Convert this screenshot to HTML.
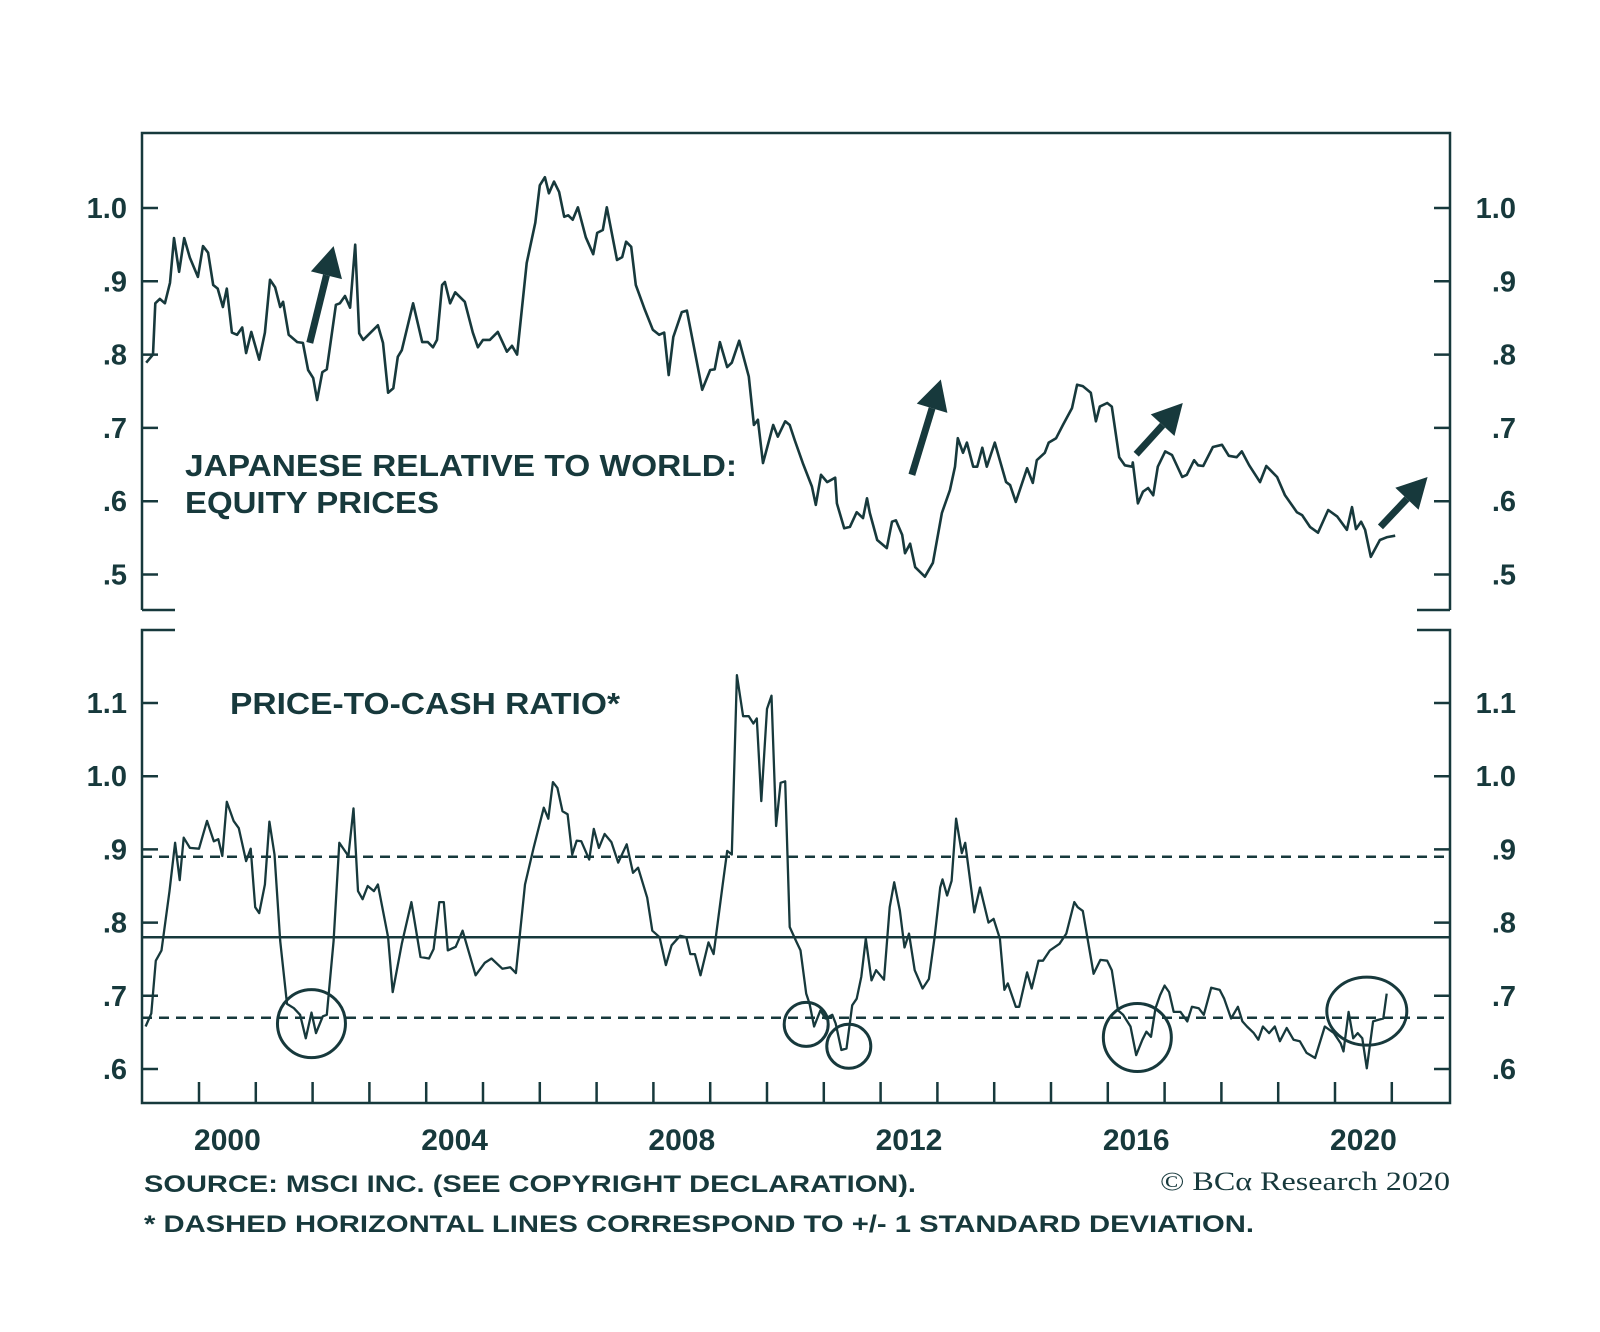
<!DOCTYPE html>
<html><head><meta charset="utf-8"><style>
html,body{margin:0;padding:0;background:#fff;}
svg{display:block;}
text{font-family:"Liberation Sans",Arial,sans-serif;fill:#17393c;font-weight:bold;}
</style></head><body>
<svg id="chart" width="1600" height="1332" viewBox="0 0 1600 1332" xmlns="http://www.w3.org/2000/svg">
<g id="frame"></g>
<g id="ticks"></g>
<g id="series"></g>
<text x="185" y="476" font-size="31" textLength="552" lengthAdjust="spacingAndGlyphs">JAPANESE RELATIVE TO WORLD:</text>
<text x="185" y="513" font-size="31" textLength="254" lengthAdjust="spacingAndGlyphs">EQUITY PRICES</text>
<text x="230" y="714" font-size="31" textLength="390" lengthAdjust="spacingAndGlyphs">PRICE-TO-CASH RATIO*</text>
<text x="144" y="1192" font-size="24" textLength="772" lengthAdjust="spacingAndGlyphs">SOURCE: MSCI INC. (SEE COPYRIGHT DECLARATION).</text>
<text x="144" y="1232" font-size="24" textLength="1110" lengthAdjust="spacingAndGlyphs">* DASHED HORIZONTAL LINES CORRESPOND TO +/- 1 STANDARD DEVIATION.</text>
<text x="1160" y="1190" font-size="26" style="font-family:'Liberation Serif',serif;font-weight:normal" textLength="290" lengthAdjust="spacingAndGlyphs">© BCα Research 2020</text>
</svg>
<script>
const topYears=[1999.07,1999.19,1999.23,1999.31,1999.40,1999.49,1999.56,1999.65,1999.74,1999.84,1999.98,2000.07,2000.16,2000.25,2000.33,2000.42,2000.49,2000.58,2000.67,2000.76,2000.83,2000.92,2001.06,2001.16,2001.25,2001.34,2001.43,2001.48,2001.58,2001.73,2001.83,2001.92,2002.01,2002.08,2002.17,2002.25,2002.41,2002.48,2002.57,2002.66,2002.75,2002.82,2002.89,2003.15,2003.24,2003.33,2003.42,2003.50,2003.57,2003.77,2003.93,2004.03,2004.12,2004.19,2004.28,2004.33,2004.42,2004.51,2004.68,2004.82,2004.91,2005.00,2005.12,2005.26,2005.35,2005.42,2005.51,2005.60,2005.77,2005.92,2006.00,2006.09,2006.16,2006.25,2006.34,2006.43,2006.50,2006.58,2006.67,2006.81,2006.94,2007.01,2007.11,2007.18,2007.36,2007.45,2007.52,2007.61,2007.69,2007.85,2007.99,2008.10,2008.19,2008.27,2008.35,2008.50,2008.59,2008.86,2009.00,2009.08,2009.17,2009.30,2009.38,2009.51,2009.68,2009.77,2009.84,2009.93,2010.11,2010.19,2010.32,2010.40,2010.49,2010.63,2010.79,2010.86,2010.95,2011.06,2011.20,2011.23,2011.36,2011.46,2011.58,2011.69,2011.76,2011.81,2011.94,2012.11,2012.20,2012.27,2012.38,2012.43,2012.52,2012.61,2012.78,2012.92,2013.08,2013.22,2013.31,2013.36,2013.45,2013.52,2013.63,2013.70,2013.79,2013.87,2014.01,2014.21,2014.28,2014.38,2014.58,2014.68,2014.75,2014.89,2014.96,2015.09,2015.21,2015.37,2015.46,2015.56,2015.70,2015.79,2015.86,2015.99,2016.07,2016.20,2016.30,2016.43,2016.44,2016.53,2016.62,2016.71,2016.80,2016.88,2017.01,2017.13,2017.31,2017.39,2017.52,2017.59,2017.68,2017.85,2018.01,2018.13,2018.27,2018.36,2018.49,2018.68,2018.79,2018.98,2019.12,2019.33,2019.42,2019.56,2019.70,2019.88,2020.04,2020.21,2020.30,2020.37,2020.46,2020.53,2020.63,2020.79,2020.92,2021.06];
const topValues=[.789,.80,.87,.876,.87,.898,.959,.913,.959,.932,.906,.948,.939,.895,.89,.865,.89,.83,.827,.837,.802,.831,.793,.83,.902,.892,.865,.872,.827,.817,.816,.779,.768,.738,.776,.78,.868,.87,.88,.864,.95,.829,.82,.84,.816,.748,.754,.797,.806,.87,.817,.817,.81,.82,.895,.899,.87,.885,.872,.83,.81,.82,.82,.831,.816,.804,.812,.80,.925,.98,1.031,1.042,1.02,1.036,1.022,.988,.99,.984,1.001,.96,.937,.966,.97,1.001,.929,.933,.954,.947,.895,.861,.834,.827,.83,.772,.824,.858,.86,.752,.779,.78,.817,.783,.789,.819,.77,.704,.711,.652,.704,.688,.709,.704,.683,.652,.62,.595,.636,.626,.632,.597,.563,.565,.585,.577,.604,.584,.547,.536,.572,.574,.554,.529,.542,.51,.497,.516,.584,.615,.647,.686,.666,.68,.647,.647,.673,.647,.68,.626,.622,.599,.645,.625,.656,.666,.68,.686,.704,.727,.759,.757,.748,.709,.729,.734,.729,.66,.649,.647,.653,.597,.613,.618,.608,.647,.668,.663,.633,.636,.656,.649,.648,.674,.677,.662,.66,.668,.649,.626,.648,.633,.608,.585,.581,.565,.557,.588,.579,.561,.592,.562,.572,.561,.524,.547,.551,.553];
const pcYears=[1999.06,1999.16,1999.24,1999.34,1999.48,1999.58,1999.66,1999.73,1999.84,2000.00,2000.14,2000.26,2000.34,2000.41,2000.49,2000.61,2000.70,2000.83,2000.91,2000.99,2001.06,2001.16,2001.24,2001.33,2001.43,2001.55,2001.67,2001.78,2001.88,2001.98,2002.06,2002.18,2002.25,2002.37,2002.47,2002.63,2002.72,2002.80,2002.88,2002.97,2003.08,2003.15,2003.33,2003.41,2003.57,2003.74,2003.90,2004.05,2004.13,2004.23,2004.31,2004.38,2004.52,2004.64,2004.87,2005.03,2005.15,2005.34,2005.48,2005.58,2005.74,2005.89,2006.07,2006.15,2006.23,2006.31,2006.40,2006.49,2006.57,2006.65,2006.73,2006.87,2006.95,2007.04,2007.14,2007.26,2007.38,2007.53,2007.64,2007.73,2007.89,2007.98,2008.11,2008.22,2008.32,2008.47,2008.58,2008.65,2008.73,2008.83,2008.97,2009.06,2009.22,2009.30,2009.38,2009.47,2009.58,2009.68,2009.76,2009.82,2009.90,2010.00,2010.08,2010.16,2010.24,2010.32,2010.40,2010.51,2010.59,2010.69,2010.75,2010.83,2010.94,2011.03,2011.15,2011.21,2011.31,2011.40,2011.50,2011.58,2011.66,2011.74,2011.84,2011.92,2012.06,2012.16,2012.24,2012.34,2012.42,2012.50,2012.60,2012.74,2012.85,2012.95,2013.05,2013.09,2013.17,2013.25,2013.33,2013.43,2013.49,2013.65,2013.75,2013.90,2013.99,2014.10,2014.18,2014.24,2014.38,2014.44,2014.58,2014.66,2014.78,2014.86,2014.98,2015.15,2015.27,2015.41,2015.47,2015.56,2015.75,2015.87,2015.99,2016.07,2016.18,2016.27,2016.40,2016.50,2016.61,2016.68,2016.76,2016.84,2016.92,2017.00,2017.08,2017.16,2017.28,2017.40,2017.48,2017.60,2017.69,2017.82,2017.97,2018.05,2018.17,2018.29,2018.37,2018.45,2018.57,2018.65,2018.73,2018.84,2018.94,2019.03,2019.15,2019.27,2019.38,2019.50,2019.65,2019.82,2019.98,2020.10,2020.15,2020.24,2020.32,2020.40,2020.48,2020.56,2020.67,2020.75,2020.85,2020.91];
const pcValues=[.658,.676,.748,.762,.843,.909,.858,.916,.902,.901,.939,.911,.914,.891,.965,.939,.929,.884,.901,.821,.813,.852,.938,.893,.775,.689,.683,.674,.642,.677,.649,.672,.674,.775,.909,.891,.956,.843,.832,.85,.843,.852,.78,.705,.771,.828,.753,.751,.764,.828,.828,.762,.767,.789,.728,.745,.751,.737,.739,.731,.852,.902,.957,.942,.992,.984,.952,.948,.893,.912,.911,.886,.928,.902,.921,.91,.882,.907,.868,.875,.834,.789,.78,.742,.769,.782,.78,.757,.757,.728,.773,.757,.852,.898,.893,1.138,1.082,1.082,1.072,1.079,.966,1.092,1.11,.932,.991,.993,.794,.775,.762,.703,.689,.658,.68,.669,.674,.662,.626,.628,.687,.696,.726,.778,.721,.735,.722,.821,.855,.816,.766,.785,.735,.71,.723,.78,.848,.859,.837,.857,.942,.895,.909,.814,.848,.80,.805,.778,.708,.717,.685,.685,.732,.71,.748,.748,.762,.771,.785,.828,.821,.816,.73,.749,.748,.735,.68,.674,.658,.619,.64,.651,.644,.683,.701,.714,.705,.678,.678,.665,.685,.683,.674,.711,.708,.696,.669,.685,.665,.658,.649,.64,.658,.649,.658,.638,.656,.64,.638,.622,.615,.658,.649,.635,.624,.678,.642,.649,.642,.601,.665,.667,.669,.703];
const refLevels=[.89,.78,.67];
const refStyles=["dashed","solid","dashed"];
const circleYears=[2001.98,2010.69,2011.44,2016.52,2020.56];
const circleValues=[.662,.661,.631,.643,.679];
const circleRadii=[34,22,22,34,40];
const topTicks=[.5,.6,.7,.8,.9,1.0];
const topTickLabels=[".5",".6",".7",".8",".9","1.0"];
const pcTicks=[.6,.7,.8,.9,1.0,1.1];
const pcTickLabels=[".6",".7",".8",".9","1.0","1.1"];
const yearTicks=[2000,2001,2002,2003,2004,2005,2006,2007,2008,2009,2010,2011,2012,2013,2014,2015,2016,2017,2018,2019,2020,2021];
const yearLabels=[2000,2004,2008,2012,2016,2020];
const arrowFromYears=[2001.95,2012.55,2016.5,2020.8];
const arrowFromValues=[.816,.636,.664,.565];
const arrowToYears=[2002.37,2013.06,2017.32,2021.63];
const arrowToValues=[.948,.766,.734,.633];

const C="#17393c";
const L=142,R=1450;
const xS=y=>199+(y-2000)*56.8;
const yTop=v=>208+(1-v)*733;
const yPc=v=>1069-(v-0.6)*732;
const NS="http://www.w3.org/2000/svg";
function mk(tag,parent,attrs){const e=document.createElementNS(NS,tag);for(const k in attrs)e.setAttribute(k,attrs[k]);parent.appendChild(e);return e;}
const frame=document.getElementById('frame'),ticks=document.getElementById('ticks'),series=document.getElementById('series');
const fp=mk('path',frame,{d:`M${L},610 V133 H${R} V610 M${L},610 H175 M${R},610 H1417 M175,630 H${L} V1103 H${R} V630 H1417`,fill:'none',stroke:C,'stroke-width':2.5});


topTicks.forEach((v,i)=>{const y=yTop(v);
 const t=mk('path',ticks,{d:`M${L},${y}H${L+16}M${R},${y}H${R-16}`,stroke:C,'stroke-width':2.5});
 
 
 const a=mk('text',ticks,{x:127,y:y+10,'font-size':29,'text-anchor':'end'});a.textContent=topTickLabels[i];
 
 
 const b=mk('text',ticks,{x:1516,y:y+10,'font-size':29,'text-anchor':'end'});b.textContent=topTickLabels[i];
 
 
});
pcTicks.forEach((v,i)=>{const y=yPc(v);
 const t=mk('path',ticks,{d:`M${L},${y}H${L+16}M${R},${y}H${R-16}`,stroke:C,'stroke-width':2.5});
 
 
 const a=mk('text',ticks,{x:127,y:y+10,'font-size':29,'text-anchor':'end'});a.textContent=pcTickLabels[i];
 
 
 const b=mk('text',ticks,{x:1516,y:y+10,'font-size':29,'text-anchor':'end'});b.textContent=pcTickLabels[i];
 
 
});
yearTicks.forEach(yr=>{const x=xS(yr);
 const t=mk('path',ticks,{d:`M${x},1103V1082`,stroke:C,'stroke-width':2.5});
 
 
});
yearLabels.forEach(yr=>{
 const t=mk('text',ticks,{x:xS(yr+0.5),y:1150,'font-size':30,'text-anchor':'middle'});t.textContent=yr;
 
 
});
refLevels.forEach((v,i)=>{
 const a={d:`M${L},${yPc(v)}H${R}`,stroke:C,'stroke-width':2.5};
 if(refStyles[i]==='dashed')a['stroke-dasharray']='10 7';
 const l=mk('path',series,a);
 
 
});
const tp=mk('path',series,{d:topYears.map((y,i)=>(i?'L':'M')+xS(y).toFixed(1)+','+yTop(topValues[i]).toFixed(1)).join(''),fill:'none',stroke:C,'stroke-width':2.6,'stroke-linejoin':'round'});


const pp=mk('path',series,{d:pcYears.map((y,i)=>(i?'L':'M')+xS(y).toFixed(1)+','+yPc(pcValues[i]).toFixed(1)).join(''),fill:'none',stroke:C,'stroke-width':2.3,'stroke-linejoin':'round'});


circleYears.forEach((yr,i)=>{
 const r=circleRadii[i];
 const c=mk('ellipse',series,{cx:xS(yr),cy:yPc(circleValues[i]),rx:r,ry:Math.min(r,34),fill:'none',stroke:C,'stroke-width':3});
 
 
});
arrowFromYears.forEach((yr,i)=>{
 const x1=xS(yr),y1=yTop(arrowFromValues[i]),x2=xS(arrowToYears[i]),y2=yTop(arrowToValues[i]);
 const dx=x2-x1,dy=y2-y1,len=Math.hypot(dx,dy),ux=dx/len,uy=dy/len,px=-uy,py=ux;
 const hl=30,hw=16,bx=x2-ux*hl,by=y2-uy*hl;
 const s=mk('path',series,{d:`M${x1},${y1}L${bx},${by}`,stroke:C,'stroke-width':7});
 
 
 const h=mk('polygon',series,{points:`${x2},${y2} ${bx+px*hw},${by+py*hw} ${bx-px*hw},${by-py*hw}`,fill:C});
 
 
});
</script>
</body></html>
